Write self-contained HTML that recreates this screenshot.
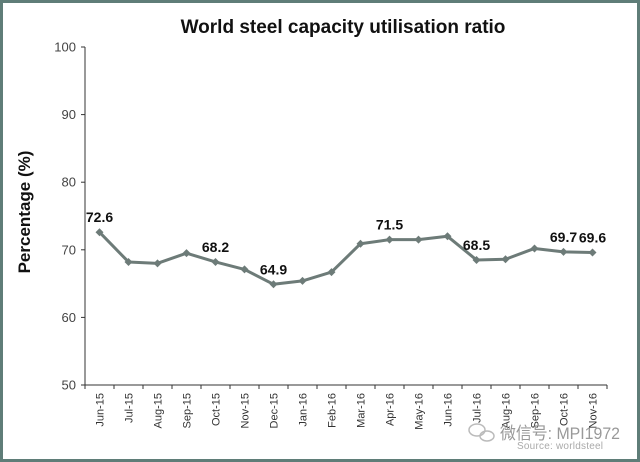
<!DOCTYPE html>
<html><head><meta charset="utf-8"><style>
html,body{margin:0;padding:0;background:#fff}
svg{display:block}
text{font-family:"Liberation Sans",Arial,sans-serif}
</style></head><body>
<svg id="chart" width="640" height="462" viewBox="0 0 640 462">
<rect x="1.5" y="1.5" width="637" height="459" fill="#fff" stroke="#5f7d78" stroke-width="3"/>
<text x="343" y="33" text-anchor="middle" font-size="19" font-weight="bold" fill="#111">World steel capacity utilisation ratio</text>
<text transform="translate(30,212) rotate(-90)" text-anchor="middle" font-size="17" font-weight="bold" fill="#111">Percentage (%)</text>
<g id="axes"></g>
<g id="series"></g>
<g id="labels"></g>
<g fill="none" stroke="#bbb" stroke-width="1.5">
<ellipse cx="477" cy="430" rx="8" ry="6"/><ellipse cx="487" cy="436" rx="7" ry="5"/>
</g>
<text x="500" y="439" font-size="17" textLength="120" lengthAdjust="spacingAndGlyphs" fill="#999" font-family="'Liberation Sans','Noto Sans CJK SC',sans-serif">微信号: MPI1972</text>
<text x="517" y="449" font-size="10" textLength="86" fill="#aaa">Source: worldsteel</text>
</svg>
<script>
const categories=["Jun-15","Jul-15","Aug-15","Sep-15","Oct-15","Nov-15","Dec-15","Jan-16","Feb-16","Mar-16","Apr-16","May-16","Jun-16","Jul-16","Aug-16","Sep-16","Oct-16","Nov-16"];
const values=[72.6,68.2,68.0,69.5,68.2,67.1,64.9,65.4,66.7,70.9,71.5,71.5,72.0,68.5,68.6,70.2,69.7,69.6];
const labelled=[0,4,6,10,13,16,17];
const yTicks=[50,60,70,80,90,100];
const NS="http://www.w3.org/2000/svg";
const x0=85,x1=607,yTop=47,yBot=385,yMin=50,yMax=100;
const bw=(x1-x0)/categories.length;
function xs(i){return x0+bw*(i+0.5);}
function ys(v){return yBot-(v-yMin)/(yMax-yMin)*(yBot-yTop);}
function mk(tag,attrs,parent){const e=document.createElementNS(NS,tag);for(const k in attrs)e.setAttribute(k,attrs[k]);parent.appendChild(e);return e;}
const axes=document.getElementById('axes'),series=document.getElementById('series'),labels=document.getElementById('labels');
let l=mk('line',{x1:x0,y1:yTop,x2:x0,y2:yBot,stroke:'#333','stroke-width':1},axes);


l=mk('line',{x1:x0,y1:yBot,x2:x1,y2:yBot,stroke:'#333','stroke-width':1},axes);


yTicks.forEach(v=>{
  const y=ys(v);
  mk('line',{x1:x0-4,y1:y,x2:x0,y2:y,stroke:'#333'},axes);
  const t=mk('text',{x:x0-9,y:y+4.5,'text-anchor':'end','font-size':13,fill:'#444'},axes);
  t.textContent=v;
  
  
});
for(let i=0;i<=categories.length;i++){mk('line',{x1:x0+bw*i,y1:yBot,x2:x0+bw*i,y2:yBot+4,stroke:'#333'},axes);}
categories.forEach((c,i)=>{
  const t=mk('text',{transform:`translate(${xs(i)+4},${yBot+8}) rotate(-90)`,'text-anchor':'end','font-size':11,fill:'#333'},axes);
  t.textContent=c;
  
  
});
const p=mk('polyline',{points:values.map((v,i)=>xs(i)+','+ys(v)).join(' '),fill:'none',stroke:'#6d7b78','stroke-width':3,'stroke-linejoin':'round'},series);


values.forEach((v,i)=>{
  const x=xs(i),y=ys(v);
  const m=mk('polygon',{points:`${x},${y-4} ${x+4},${y} ${x},${y+4} ${x-4},${y}`,fill:'#6d7b78'},series);
  
  
});
labelled.forEach(i=>{
  const t=mk('text',{x:xs(i),y:ys(values[i])-10,'text-anchor':'middle','font-size':14,'font-weight':'bold',fill:'#111'},labels);
  t.textContent=values[i].toFixed(1);
  
  
});
</script>
</body></html>
